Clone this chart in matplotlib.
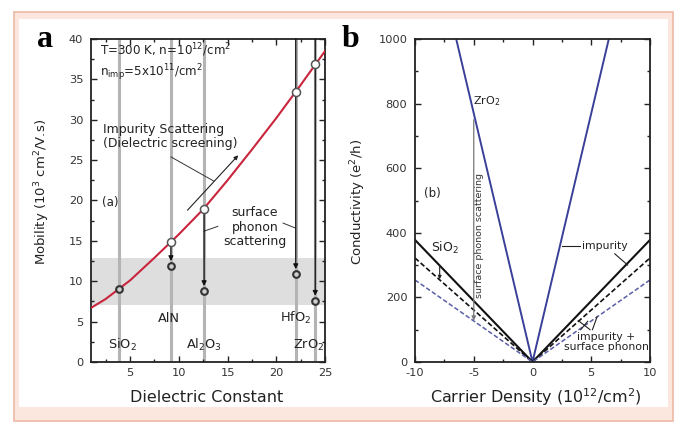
import matplotlib
matplotlib.use('Agg')
import matplotlib.pyplot as plt
from matplotlib.patches import Rectangle
from matplotlib.ticker import MultipleLocator

plt.rcParams['font.family'] = ['DejaVu Sans']
plt.rcParams['mathtext.fontset'] = 'dejavusans'
plt.rcParams['axes.unicode_minus'] = False

# ---- panel (a) data: mobility vs dielectric constant ----
eps_curve = [1, 2.5, 5, 7.5, 10, 12.5, 15, 17.5, 20, 22.5, 25]
mob_curve = [6.7, 7.8, 10.1, 12.9, 15.8, 18.9, 22.5, 26.3, 30.2, 34.3, 38.5]

materials = ['SiO$_2$', 'AlN', 'Al$_2$O$_3$', 'HfO$_2$', 'ZrO$_2$']
kappa = [3.9, 9.2, 12.6, 22.0, 24.0]
mu_imp = [9.0, 14.8, 19.0, 33.4, 36.9]      # impurity only (on red curve)
mu_tot = [9.0, 11.9, 8.8, 10.9, 7.6]        # impurity + surface phonon
band = (7.0, 12.9)

# ---- panel (b) data: conductivity vs carrier density ----
dens = [-10, 0, 10]
sio2_imp = [378, 0, 378]
sio2_tot = [322, 0, 322]
zro2_imp = [1540, 0, 1540]
zro2_tot = [254, 0, 254]

W, H = 678, 425
fig = plt.figure(figsize=(W / 100, H / 100), dpi=100)
fig.patch.set_facecolor('white')
TXT = '#222222'

def frac(x0, y0, x1, y1):
    # pixel box (top-left origin) -> figure fraction
    return (x0 / W, 1 - y1 / H), (x1 - x0) / W, (y1 - y0) / H

xy, w, h = frac(14, 12, 673, 421)
fig.patches.append(Rectangle(xy, w, h, transform=fig.transFigure,
                             facecolor='#fce7de', edgecolor='#eeb9a6', lw=1.2, zorder=-2))
xy, w, h = frac(19, 19, 668, 407)
fig.patches.append(Rectangle(xy, w, h, transform=fig.transFigure,
                             facecolor='white', edgecolor='none', zorder=-1))

def style_axes(ax):
    ax.set_facecolor('none')
    ax.tick_params(which='both', direction='in', top=True, right=True,
                   labelsize=8.2, width=1.0, color='#222222', labelcolor='#333333')
    ax.tick_params(which='major', length=4.5)
    ax.tick_params(which='minor', length=2.5)
    ax.tick_params(axis='x', pad=4.5)
    ax.tick_params(axis='y', pad=5.5)
    for s in ax.spines.values():
        s.set_linewidth(1.3)
        s.set_color('#222222')

# ================= panel a =================
ax1 = fig.add_axes([91 / W, 1 - 362 / H, 234 / W, 323 / H])
style_axes(ax1)
ax1.set_xlim(1, 25)
ax1.set_ylim(0, 40)
ax1.xaxis.set_major_locator(MultipleLocator(5))
ax1.xaxis.set_minor_locator(MultipleLocator(2.5))
ax1.yaxis.set_major_locator(MultipleLocator(5))
ax1.yaxis.set_minor_locator(MultipleLocator(2.5))

ax1.axhspan(band[0], band[1], color='#dedede', lw=0, zorder=0)
for k in kappa:
    ax1.axvline(k, color='#b4b4b4', lw=2.2, zorder=1)

ax1.plot(eps_curve, mob_curve, color='#c9253d', lw=1.5, zorder=3)

# vertical arrows impurity -> impurity + phonon
starts = [None, mu_imp[1], mu_imp[2], 40, 40]
for k, s, t in zip(kappa, starts, mu_tot):
    if s is None:
        continue
    ax1.annotate('', xy=(k, t + 0.6), xytext=(k, s),
                 arrowprops=dict(arrowstyle='-|>', color='#111111', lw=0.9,
                                 mutation_scale=7, shrinkA=0, shrinkB=0), zorder=4)

ax1.plot(kappa[1:], mu_imp[1:], 'o', ms=5.8, mfc='white', mec='#555555', mew=1.1, zorder=5)
ax1.plot(kappa, mu_tot, 'o', ms=4.8, mfc='#cfcfcf', mec='#333333', mew=1.5, zorder=5)

ax1.text(1.9, 37.1, 'T=300 K, n=10$^{12}$/cm$^2$\nn$_{\\mathrm{imp}}$=5x10$^{11}$/cm$^2$',
         fontsize=8.6, va='center', color=TXT, linespacing=1.25)
ax1.text(2.2, 27.9, 'Impurity Scattering\n(Dielectric screening)', fontsize=9,
         va='center', color=TXT, linespacing=1.15)
ax1.text(3.0, 19.8, '(a)', fontsize=8.5, ha='center', va='center', color=TXT)
ax1.annotate('', xy=(16.1, 25.6), xytext=(10.9, 18.8),
             arrowprops=dict(arrowstyle='-|>', color='#222222', lw=0.8,
                             mutation_scale=6, shrinkA=0, shrinkB=0))
ax1.plot([9.2, 13.6], [25.4, 22.4], color='#333333', lw=0.7)
ax1.text(17.8, 16.7, 'surface\nphonon\nscattering', fontsize=9, ha='center',
         va='center', color=TXT, linespacing=1.15)
ax1.plot([12.6, 14.0], [16.2, 16.8], color='#333333', lw=0.7)
ax1.plot([20.7, 21.95], [17.2, 16.6], color='#333333', lw=0.7)

label_pos = [(4.2, 2.1), (9.0, 5.4), (12.6, 2.1), (22.0, 5.4), (23.3, 2.1)]
for name, (lx, ly) in zip(materials, label_pos):
    ax1.text(lx, ly, name, fontsize=9.3, ha='center', va='center', color=TXT)

fig.text(207 / W, 1 - 397 / H, 'Dielectric Constant', fontsize=11.5,
         color=TXT, ha='center', va='center')
fig.text(42 / W, 1 - 192 / H, 'Mobility (10$^3$ cm$^2$/V.s)', fontsize=9.5,
         color=TXT, ha='center', va='center', rotation=90)
fig.text(45 / W, 1 - 47 / H, 'a', fontsize=23, fontweight='bold',
         family='Liberation Serif', ha='center', va='baseline')

# ================= panel b =================
ax2 = fig.add_axes([415 / W, 1 - 362 / H, 235 / W, 323 / H])
style_axes(ax2)
ax2.set_xlim(-10, 10)
ax2.set_ylim(0, 1000)
ax2.xaxis.set_major_locator(MultipleLocator(5))
ax2.xaxis.set_minor_locator(MultipleLocator(2.5))
ax2.yaxis.set_major_locator(MultipleLocator(200))
ax2.yaxis.set_minor_locator(MultipleLocator(100))

ax2.plot(dens, zro2_imp, color='#3a3f98', lw=1.4)
ax2.plot(dens, sio2_imp, color='#111111', lw=1.5)
ax2.plot(dens, sio2_tot, color='#111111', lw=1.2, ls=(0, (3, 1.5)))
ax2.plot(dens, zro2_tot, color='#5a5ea6', lw=1.1, ls=(0, (3, 1.5)))

ax2.annotate('', xy=(-5.0, 128), xytext=(-5.0, 750),
             arrowprops=dict(arrowstyle='-|>', color='#777777', lw=0.9,
                             mutation_scale=6, shrinkA=0, shrinkB=0))
ax2.text(-4.5, 393, 'surface phonon scattering', rotation=90, fontsize=6.8,
         ha='center', va='center', color='#333333')
ax2.annotate('', xy=(-7.9, 256), xytext=(-7.9, 300),
             arrowprops=dict(arrowstyle='-|>', color='#222222', lw=0.8,
                             mutation_scale=5, shrinkA=0, shrinkB=0))

ax2.text(-5.1, 808, 'ZrO$_2$', fontsize=8, va='center', color=TXT)
ax2.text(-8.5, 523, '(b)', fontsize=8.5, ha='center', va='center', color=TXT)
ax2.text(-8.6, 353, 'SiO$_2$', fontsize=9, va='center', color=TXT)

ax2.plot([2.5, 4.0], [358, 358], color='#222222', lw=0.8)
ax2.text(4.2, 360, 'impurity', fontsize=7.8, va='center', color=TXT)
ax2.plot([7.0, 8.1], [335, 300], color='#222222', lw=0.8)
ax2.text(6.3, 62, 'impurity +\nsurface phonon', fontsize=7.8, ha='center',
         va='center', color=TXT, linespacing=1.0)
ax2.plot([3.9, 4.9], [128, 100], color='#222222', lw=0.8)
ax2.plot([4.1, 4.7], [100, 126], color='#222222', lw=0.8)
ax2.plot([5.1, 5.5], [100, 140], color='#222222', lw=0.8)

fig.text(536 / W, 1 - 397 / H, 'Carrier Density (10$^{12}$/cm$^2$)', fontsize=11.5,
         color=TXT, ha='center', va='center')
fig.text(358 / W, 1 - 202 / H, 'Conductivity (e$^2$/h)', fontsize=9.5,
         color=TXT, ha='center', va='center', rotation=90)
fig.text(351 / W, 1 - 47 / H, 'b', fontsize=23, fontweight='bold',
         family='Liberation Serif', ha='center', va='baseline')

fig.savefig('out.png', dpi=100)
